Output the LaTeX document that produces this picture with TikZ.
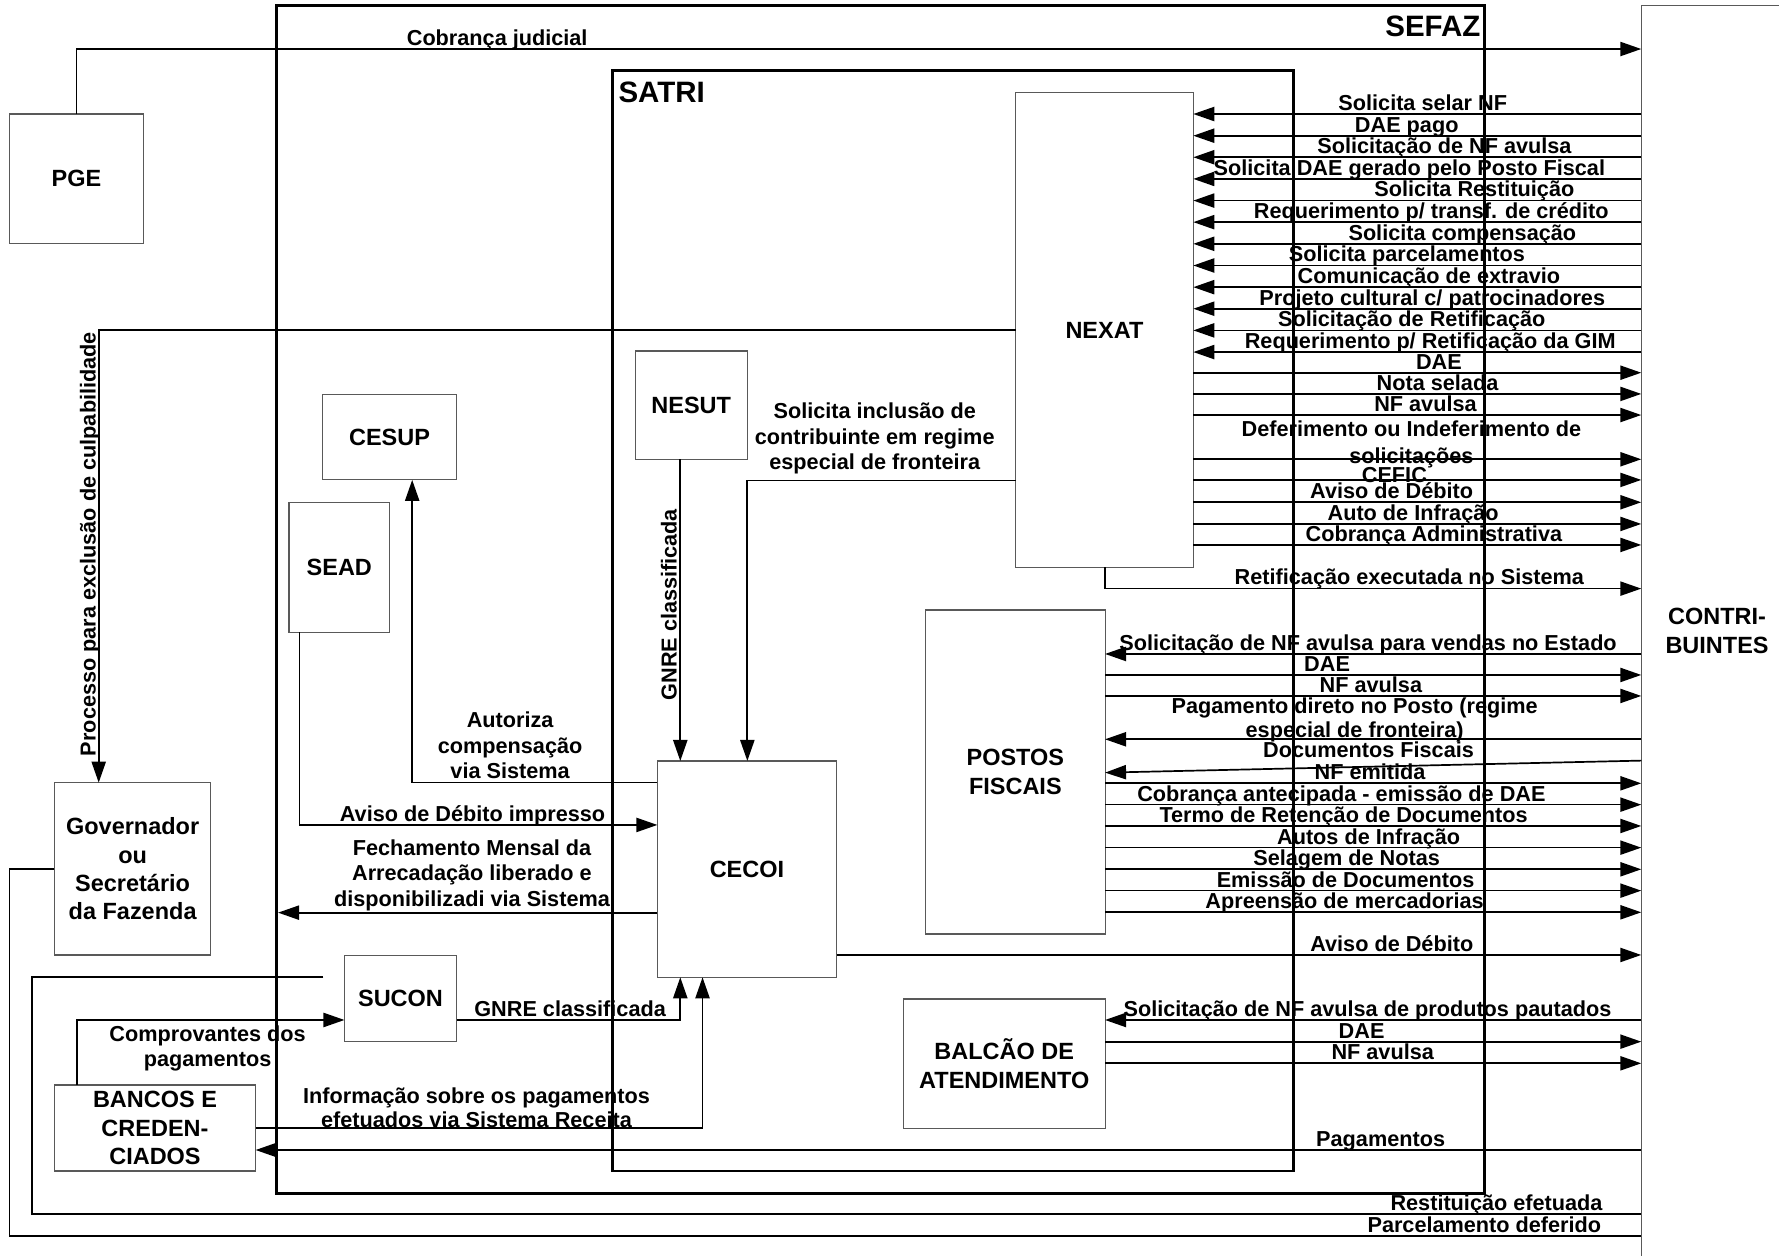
\documentclass[tikz,border=0pt]{standalone}
\usepackage{fontspec}
\setmainfont{Liberation Sans}
\usetikzlibrary{arrows.meta}
\newcommand{\lblfont}{\fontsize{19.1}{22.7}\selectfont\bfseries}
\newcommand{\boxfont}{\fontsize{20.7}{25}\selectfont\bfseries}
\newcommand{\titlefont}{\fontsize{26}{30}\selectfont\bfseries}
\tikzset{
  box/.style={draw=black!65, line width=1pt, inner sep=0pt, outer sep=0pt, anchor=north west, font=\boxfont, align=center},
  frame/.style={draw=black, line width=2.4pt, inner sep=0pt, outer sep=0pt, anchor=north west},
  conn/.style={draw=black, line width=1.5pt},
  arr/.style={conn, -{Triangle[length=18.5pt,width=12.5pt]}},
  lbl/.style={font=\lblfont, inner sep=0pt, anchor=base},
  mlbl/.style={font=\lblfont, inner sep=0pt, align=center},
  title/.style={font=\titlefont, inner sep=0pt},
}
\begin{document}
\begin{tikzpicture}[x=1pt,y=-1pt]
\fill[white] (0,0) rectangle (1568,1107);
\useasboundingbox (0,0) rectangle (1568,1107);
% frames
\node[frame, minimum width=1064.2pt, minimum height=1046.8pt] (sefaz) at (243.9,5) {};
\node[title, anchor=base east] (sefazlbl) at (1305,32) {SEFAZ};
\node[frame, minimum width=600.2pt, minimum height=969.8pt] (satri) at (540,62.3) {};
\node[title, anchor=base west] (satrilbl) at (545,90) {SATRI};
% boxes
\node[box, minimum width=118.1pt, minimum height=114pt] (pge) at (8.4,100.5) {PGE};
\node[box, minimum width=156.7pt, minimum height=418.3pt] (nexat) at (895.1,81.7) {NEXAT};
\node[box, minimum width=98.9pt, minimum height=95.4pt] (nesut) at (559.8,309.4) {NESUT};
\node[box, minimum width=118.1pt, minimum height=75.5pt] (cesup) at (284.3,347.5) {CESUP};
\node[box, minimum width=88.7pt, minimum height=114.6pt] (sead) at (254.7,442.7) {SEAD};
\node[box, minimum width=157.9pt, minimum height=190.7pt] (cecoi) at (579.4,670.7) {CECOI};
\node[box, minimum width=158.2pt, minimum height=285.6pt] (postos) at (815.8,537.6) {POSTOS\\FISCAIS};
\node[box, minimum width=177.7pt, minimum height=114pt] (balcao) at (796.3,880.5) {BALCÃO DE\\ATENDIMENTO};
\node[box, minimum width=138pt, minimum height=151.9pt] (gov) at (47.9,689.8) {Governador\\ou\\Secretário\\da Fazenda};
\node[box, minimum width=98.8pt, minimum height=75.8pt] (sucon) at (303.6,842.3) {SUCON};
\node[box, minimum width=177.4pt, minimum height=75.8pt] (bancos) at (47.9,956.3) {BANCOS E\\CREDEN-\\CIADOS};
\coordinate (cbedge) at (1446.6,5);
\draw[draw=black!65, line width=1pt] (1446.6,1107) -- (cbedge) -- (1568,5);
\node[font=\boxfont, align=center, inner sep=0pt] (contrib) at (1513.4,556) {CONTRI-\\BUINTES};
% connectors
\draw[arr] (pge.north) |- (cbedge |- 0,43.2);
\node[lbl] (lcob) at (438.2,40) {Cobrança judicial};
\draw[arr] (nexat.west |- 0,290.9) -| (gov.north west -| 87,0);
\node[lbl, rotate=90] (lproc) at (84.3,479.5) {Processo para exclusão de culpabilidade};
\draw[arr] (nexat.west |- 0,423.6) -| (cecoi.north west -| 658.7,0);
\node[mlbl] (lincl) at (771,386.5) {Solicita inclusão de\\contribuinte em regime\\especial de fronteira};
\draw[arr] (599.6,0 |- nesut.south) -- (cecoi.north west -| 599.6,0);
\node[lbl, rotate=90] (lgnrea) at (596.3,533) {GNRE classificada};
\draw[arr] (cecoi.west |- 0,689.8) -| (cesup.south -| 363.3,0);
\node[mlbl] (laut) at (449.6,657) {Autoriza\\compensação\\via Sistema};
\draw[arr] (264.1,0 |- sead.south) |- (cecoi.west |- 0,727.1);
\node[lbl] (lavimp) at (416.5,724) {Aviso de Débito impresso};
\draw[arr, shorten >=1.2pt] (cecoi.west |- 0,804.4) -- (sefaz.west |- 0,804.4);
\node[mlbl] (lfech) at (416,771.5) {Fechamento Mensal da\\Arrecadação liberado e\\disponibilizadi via Sistema};
\draw[arr] (sucon.east |- 0,899) -| (cecoi.south -| 599.6,0);
\node[lbl] (lgnreb) at (502.5,896) {GNRE classificada};
\draw[arr] (bancos.east |- 0,994.5) -| (cecoi.south -| 619.2,0);
\node[mlbl] (linfo) at (420,976) {Informação sobre os pagamentos\\[-1.5pt]efetuados via Sistema Receita};
\draw[arr] (67.8,0 |- bancos.north) |- (sucon.west |- 0,899);
\node[mlbl] (lcomp) at (183,924) {Comprovantes dos\\pagamentos};
\draw[arr] (cbedge |- 0,1013.6) -- (bancos.east |- 0,1013.6);
\node[lbl] (lpag) at (1216.9,1010.4) {Pagamentos};
\draw[arr] (cecoi.east |- 0,841.7) -- (cbedge |- 0,841.7);
\node[lbl] (lavcecoi) at (1226.7,839) {Aviso de Débito};
\coordinate (restend) at (285,861.4);
\draw[conn] (restend) -| (28,1070.3) -- (cbedge |- 0,1070.3);
\node[lbl] (lrest) at (1319,1067.1) {Restituição efetuada};
\draw[conn] (gov.west |- 0,765.9) -| (8.4,1089.4) -- (cbedge |- 0,1089.4);
\node[lbl] (lparc) at (1308.3,1086.2) {Parcelamento deferido};
\draw[arr] (974,0 |- nexat.south) |- (cbedge |- 0,518.8);
\node[lbl] (lretif) at (1242.2,515.6) {Retificação executada no Sistema};
% NEXAT incoming
\foreach \yy/\xx/\txt [count=\i] in {
 100.5/1254.0/{Solicita selar NF},
 119.6/1239.9/{DAE pago},
 138.6/1273.1/{Solicitação de NF avulsa},
 157.7/1242.2/{Solicita DAE gerado pelo Posto Fiscal},
 176.8/1299.5/{Solicita Restituição},
 195.8/1261.5/{Requerimento p/ transf. de crédito},
 214.9/1288.9/{Solicita compensação},
 234.0/1240.1/{Solicita parcelamentos},
 253.1/1259.4/{Comunicação de extravio},
 272.1/1262.4/{Projeto cultural c/ patrocinadores},
 291.2/1244.3/{Solicitação de Retificação},
 310.3/1260.6/{Requerimento p/ Retificação da GIM}}{
  \draw[arr] (cbedge |- 0,\yy) -- (nexat.east |- 0,\yy);
  \node[lbl] (nin\i) at (\xx,\yy-3.2) {\txt};
}
% NEXAT outgoing
\foreach \yy/\xx/\txt [count=\i] in {
 328.5/1268.2/{DAE},
 347.2/1267.0/{Nota selada},
 365.8/1256.4/{NF avulsa},
 442.7/1226.6/{Aviso de Débito},
 461.8/1245.5/{Auto de Infração},
 480.3/1263.8/{Cobrança Administrativa}}{
  \draw[arr] (nexat.east |- 0,\yy) -- (cbedge |- 0,\yy);
  \node[lbl] (nout\i) at (\xx,\yy-3.2) {\txt};
}
\draw[arr] (nexat.east |- 0,404.8) -- (cbedge |- 0,404.8);
\node[mlbl] (ldef) at (1244,391.6) {Deferimento ou Indeferimento de\\[1.7pt]solicitações};
\draw[arr] (nexat.east |- 0,423.0) -- (cbedge |- 0,423.0);
\node[lbl] (lcefic) at (1229,425) {CEFIC};
% POSTOS
\draw[arr] (cbedge |- 0,576.4) -- (postos.east |- 0,576.4);
\node[lbl] (psol) at (1205.8,573.2) {Solicitação de NF avulsa para vendas no Estado};
\draw[arr] (cbedge |- 0,651.6) -- (postos.east |- 0,651.6);
\node[mlbl] (ppag) at (1194,634.5) {Pagamento direto no Posto (regime\\[-0.7pt]especial de fronteira)};
\draw[arr] (cbedge |- 0,670.4) -- (postos.east |- 0,681);
\node[lbl] (pdoc) at (1206.2,667.8) {Documentos Fiscais};
\foreach \yy/\xx/\txt [count=\i] in {
 594.9/1169.7/{DAE},
 613.4/1208.3/{NF avulsa},
 690.4/1207.5/{NF emitida},
 709.2/1182.3/{Cobrança antecipada - emissão de DAE},
 728.0/1184.2/{Termo de Retenção de Documentos},
 747.1/1206.3/{Autos de Infração},
 766.2/1186.9/{Selagem de Notas},
 785.0/1186.0/{Emissão de Documentos},
 804.1/1185.1/{Apreensão de mercadorias}}{
  \draw[arr] (postos.east |- 0,\yy) -- (cbedge |- 0,\yy);
  \node[lbl] (pout\i) at (\xx,\yy-3.2) {\txt};
}
% BALCAO
\draw[arr] (cbedge |- 0,899) -- (balcao.east |- 0,899);
\node[lbl] (bsol) at (1205.3,895.8) {Solicitação de NF avulsa de produtos pautados};
\draw[arr] (balcao.east |- 0,918.1) -- (cbedge |- 0,918.1);
\node[lbl] (bdae) at (1200.1,914.9) {DAE};
\draw[arr] (balcao.east |- 0,937.2) -- (cbedge |- 0,937.2);
\node[lbl] (bnf) at (1218.7,934) {NF avulsa};
\end{tikzpicture}
\end{document}
